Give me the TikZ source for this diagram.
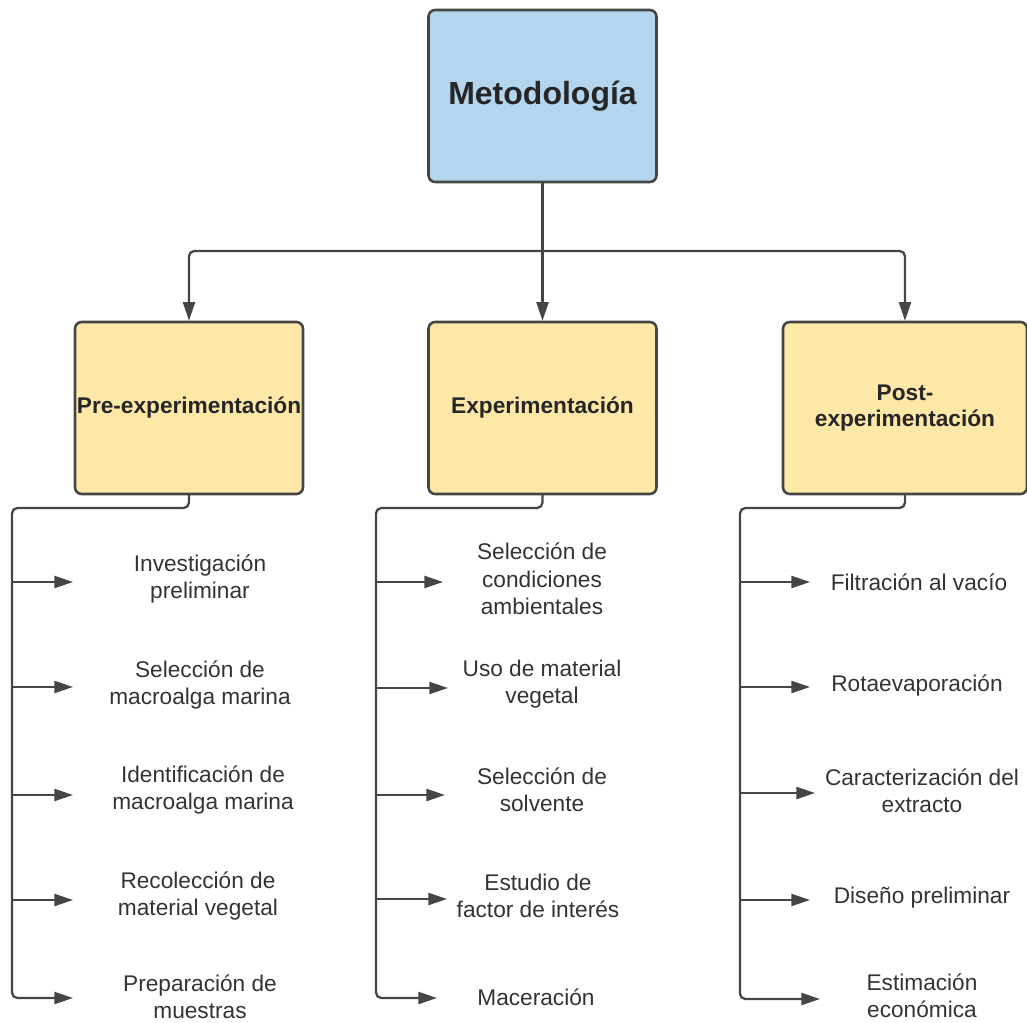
\documentclass[tikz,border=0pt]{standalone}
\usepackage{fontspec}
\setmainfont{Liberation Sans}
\usetikzlibrary{arrows.meta}
\definecolor{boxblue}{HTML}{B4D5EE}
\definecolor{boxyellow}{HTML}{FDE8A8}
\definecolor{linegray}{HTML}{454545}
\definecolor{textgray}{HTML}{333333}
\begin{document}
\begin{tikzpicture}[x=0.75pt, y=-0.75pt, line join=round, line cap=round, >={Triangle[length=14pt,width=9pt]},
	box/.style={draw=linegray, line width=1.9pt, rounded corners=5pt, minimum width=171pt, minimum height=129pt, inner sep=0pt, align=center, text=black!85, font=\fontsize{17}{20}\selectfont\bfseries},
	item/.style={align=center, text=textgray, font=\fontsize{17}{20.5}\selectfont},
	link/.style={draw=linegray, line width=1.7pt, rounded corners=4pt}]
	\useasboundingbox (0,0) rectangle (1027,1023);
	\node[box, fill=boxblue, font=\fontsize{24}{28}\selectfont\bfseries] (metodo) at (542.5,96) {Metodología};
	\node[box, fill=boxyellow] (pre) at (189,408) {Pre-experimentación};
	\node[box, fill=boxyellow] (exp) at (542.5,408) {Experimentación};
	\node[box, fill=boxyellow, minimum width=183pt] (post) at (905,408) {Post-\\experimentación};
	\coordinate (bus) at (542.5,251);
	\draw[link,->] (metodo.south) -- (exp.north);
	\draw[link,->] (metodo.south |- bus) -| (pre.north);
	\draw[link,->] (metodo.south |- bus) -| (post.north);
	% pre-experimentacion
	\coordinate (preT) at (12,508);
	\foreach \txt/\y/\tip/\tx/\ty [count=\i] in {{Investigación\\preliminar}/582/73/200/579, {Selección de\\macroalga marina}/687/73/200/685, {Identificación de\\macroalga marina}/795/73/203/790, {Recolección de\\material vegetal}/900/73/198/896, {Preparación de\\muestras}/998/73/200/997}{
		\coordinate (pre\i) at (\tip,\y);
		\node[item] (pretext\i) at (\tx,\ty) {\txt};
	}
	\draw[link,->] (pre.south) |- (preT) |- (pre5);
	\foreach \i in {1,...,4}\draw[link,->] (preT |- pre\i) -- (pre\i);
	% experimentacion
	\coordinate (expT) at (376,508);
	\foreach \txt/\y/\tip/\tx/\ty [count=\i] in {{Selección de\\condiciones\\ambientales}/582/443/542/579, {Uso de material\\vegetal}/688/448/542/684, {Selección de\\solvente}/795/445/542/790, {Estudio de\\factor de interés}/899/447/538/896, {Maceración}/998/437/536/997}{
		\coordinate (exp\i) at (\tip,\y);
		\node[item] (exptext\i) at (\tx,\ty) {\txt};
	}
	\draw[link,->] (exp.south) |- (expT) |- (exp5);
	\foreach \i in {1,...,4}\draw[link,->] (expT |- exp\i) -- (exp\i);
	% post-experimentacion
	\coordinate (postT) at (740,508);
	\foreach \txt/\y/\tip/\tx/\ty [count=\i] in {{Filtración al vacío}/582/810/919/582, {Rotaevaporación}/687/810/917/686, {Caracterización del\\extracto}/793/815/922/791, {Diseño preliminar}/900/810/922/898, {Estimación\\económica}/999/820/922/996}{
		\coordinate (post\i) at (\tip,\y);
		\node[item] (posttext\i) at (\tx,\ty) {\txt};
	}
	\draw[link,->] (post.south) |- (postT) |- (post5);
	\foreach \i in {1,...,4}\draw[link,->] (postT |- post\i) -- (post\i);
\end{tikzpicture}
\end{document}
